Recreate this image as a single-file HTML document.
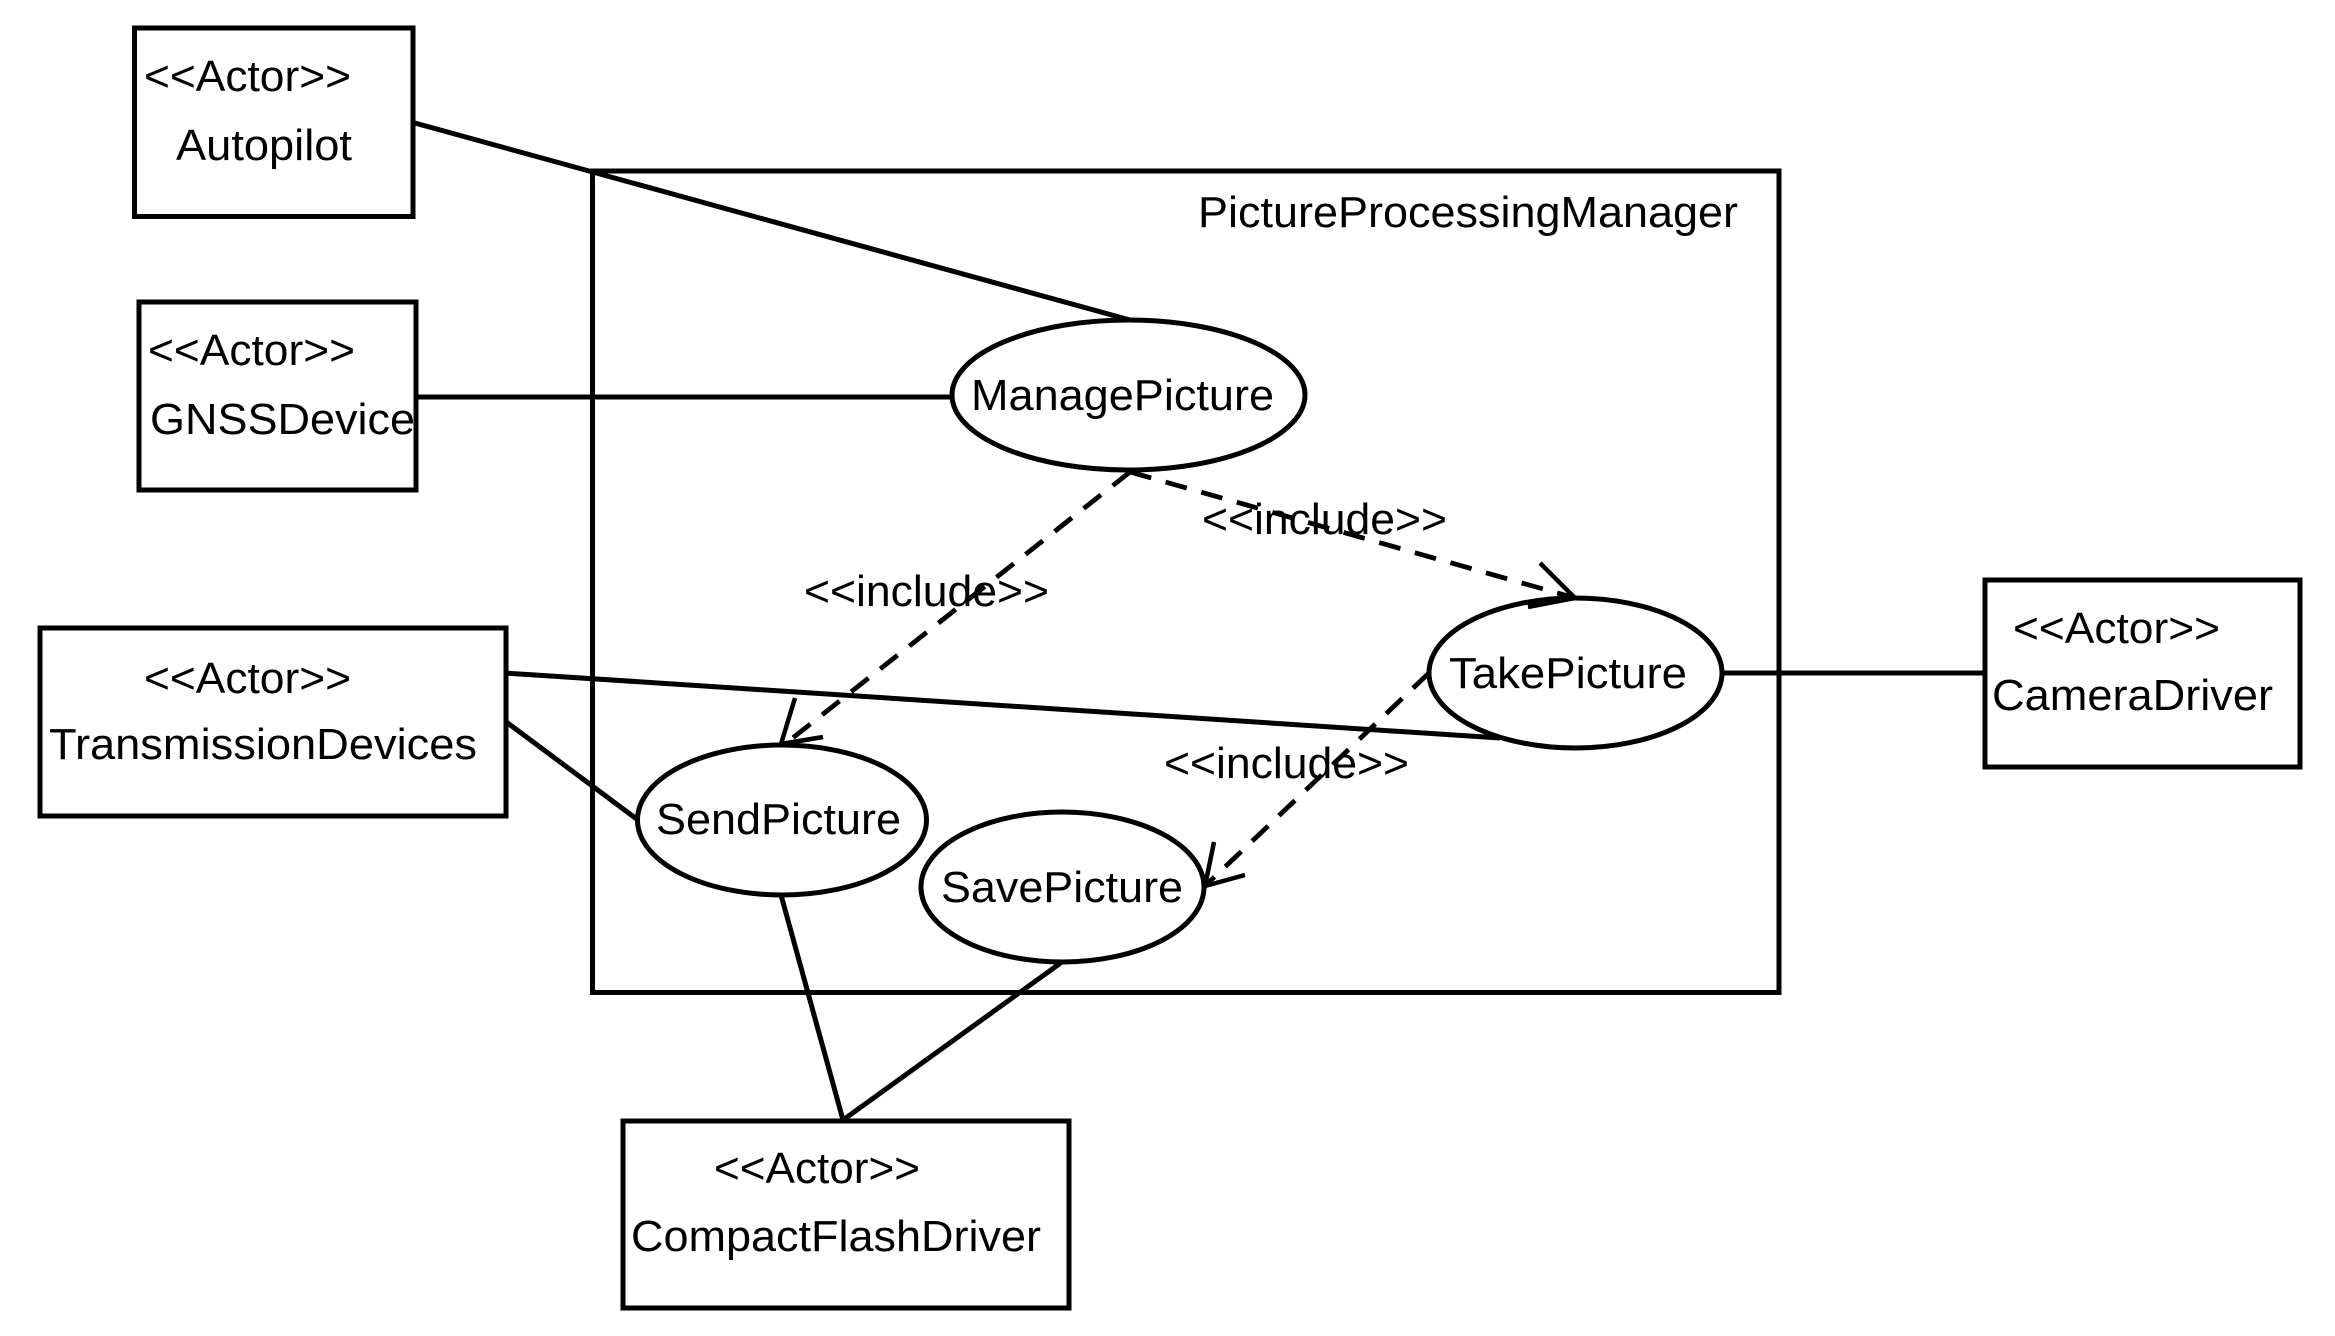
<!DOCTYPE html>
<html>
<head>
<meta charset="utf-8">
<style>
html,body{margin:0;padding:0;background:#fff;width:2335px;height:1336px;overflow:hidden}
svg{display:block}
text{font-family:"Liberation Sans",Arial,sans-serif;font-size:44px;fill:#000;stroke:none}
</style>
</head>
<body>
<svg width="2335" height="1336" viewBox="0 0 2335 1336" xmlns="http://www.w3.org/2000/svg">
<rect width="2335" height="1336" fill="#fff"/>
<g fill="none" stroke="#000" stroke-width="5">
  <rect x="592.5" y="171" width="1186.5" height="821.5"/>
  <rect x="134.5" y="28" width="278.5" height="188.5"/>
  <rect x="139" y="302" width="277" height="188"/>
  <rect x="40" y="628" width="466" height="188"/>
  <rect x="1985" y="580" width="315" height="187"/>
  <rect x="623" y="1121" width="446" height="187"/>
</g>
<g fill="#fff" stroke="#000" stroke-width="5">
  <ellipse cx="1128.5" cy="395" rx="176.5" ry="75"/>
  <ellipse cx="1575.5" cy="673" rx="146.5" ry="75"/>
  <ellipse cx="782" cy="820" rx="144.5" ry="75"/>
  <ellipse cx="1062.5" cy="887" rx="141.5" ry="75"/>
</g>
<g fill="none" stroke="#000" stroke-width="5">
  <line x1="413" y1="122.5" x2="1130" y2="320"/>
  <line x1="415" y1="397" x2="953" y2="397"/>
  <line x1="505" y1="673" x2="1500" y2="738"/>
  <line x1="505" y1="721" x2="638" y2="820"/>
  <line x1="781" y1="895" x2="843" y2="1120"/>
  <line x1="1062" y1="962" x2="843" y2="1120"/>
  <line x1="1722" y1="673" x2="1985" y2="673"/>
</g>
<g fill="none" stroke="#000" stroke-width="4.8" stroke-dasharray="22 15">
  <line x1="1130" y1="472" x2="785" y2="744"/>
  <line x1="1130" y1="472" x2="1575" y2="598"/>
  <line x1="1429" y1="673" x2="1206" y2="885"/>
</g>
<g fill="none" stroke="#000" stroke-width="4.5">
  <polyline points="795,698 781,744 823,737"/>
  <polyline points="1540,563 1575,598 1528,607"/>
  <polyline points="1214,842 1205,886 1245,875"/>
</g>
<text x="144" y="91" textLength="207" lengthAdjust="spacingAndGlyphs">&lt;&lt;Actor&gt;&gt;</text>
<text x="176" y="160" textLength="176" lengthAdjust="spacingAndGlyphs">Autopilot</text>
<text x="148" y="365" textLength="207" lengthAdjust="spacingAndGlyphs">&lt;&lt;Actor&gt;&gt;</text>
<text x="150" y="434" textLength="265" lengthAdjust="spacingAndGlyphs">GNSSDevice</text>
<text x="144" y="693" textLength="207" lengthAdjust="spacingAndGlyphs">&lt;&lt;Actor&gt;&gt;</text>
<text x="49" y="759" textLength="428" lengthAdjust="spacingAndGlyphs">TransmissionDevices</text>
<text x="1198" y="227" textLength="540" lengthAdjust="spacingAndGlyphs">PictureProcessingManager</text>
<text x="971" y="410" textLength="303" lengthAdjust="spacingAndGlyphs">ManagePicture</text>
<text x="804" y="606" textLength="245" lengthAdjust="spacingAndGlyphs">&lt;&lt;include&gt;&gt;</text>
<text x="1202" y="534" textLength="245" lengthAdjust="spacingAndGlyphs">&lt;&lt;include&gt;&gt;</text>
<text x="1164" y="778" textLength="245" lengthAdjust="spacingAndGlyphs">&lt;&lt;include&gt;&gt;</text>
<text x="1449" y="688" textLength="238" lengthAdjust="spacingAndGlyphs">TakePicture</text>
<text x="2013" y="643" textLength="207" lengthAdjust="spacingAndGlyphs">&lt;&lt;Actor&gt;&gt;</text>
<text x="1992" y="710" textLength="281" lengthAdjust="spacingAndGlyphs">CameraDriver</text>
<text x="656" y="834" textLength="245" lengthAdjust="spacingAndGlyphs">SendPicture</text>
<text x="941" y="902" textLength="242" lengthAdjust="spacingAndGlyphs">SavePicture</text>
<text x="714" y="1183" textLength="206" lengthAdjust="spacingAndGlyphs">&lt;&lt;Actor&gt;&gt;</text>
<text x="631" y="1251" textLength="410" lengthAdjust="spacingAndGlyphs">CompactFlashDriver</text>
</svg>
</body>
</html>
